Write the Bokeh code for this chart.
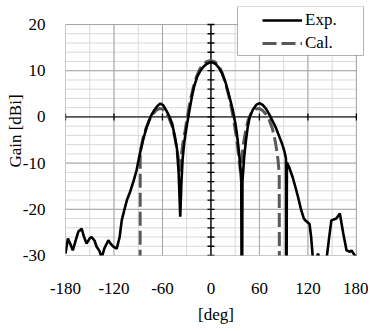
from bokeh.plotting import figure
from bokeh.models import (Legend, LegendItem, FixedTicker, BoxAnnotation, Range1d)
from bokeh.embed import file_html
from bokeh.resources import INLINE

# ---- data ----
exp_deg = [-180, -177, -174, -171, -167, -164, -160, -157, -154, -150, -147.7, -144, -141.5, -138,
           -135.3, -132, -127, -124, -120.8, -116.6, -113, -110.4, -107, -104, -100, -96, -92,
           -88, -84, -80, -77, -74, -70, -66, -62.5, -59, -55, -52, -48, -45, -42, -40, -38,
           -36.5, -35, -33, -30, -27, -24, -21, -17, -13, -9, -5, -1, 2, 6, 10, 14, 18, 21,
           24, 27, 30, 32, 34, 36, 37.5, 38, 38.5, 39, 41, 43, 45.5, 48, 52, 56, 60, 64, 68,
           72, 76, 80, 84, 88, 91, 92.8, 93, 93.5, 94, 97, 101, 105, 108, 111.7, 115, 118,
           122, 124, 126.3, 130, 132.5, 135, 142.9, 146, 149, 155.2, 159.5, 163.7, 167.8,
           171.9, 174, 178, 180]
exp_gain = [-29.6, -26.3, -27.5, -28.9, -26.5, -24.8, -24.2, -26.0, -27.4, -26.3, -26.0, -26.8, -28.1,
            -29.0, -30.5, -28.5, -26.7, -27.5, -28.1, -28.5, -26.0, -22.4, -20.0, -18.0, -16.2,
            -14.0, -11.5, -8.0, -5.0, -2.5, -1.0, 0.3, 1.5, 2.4, 2.9, 2.5, 1.3, 0.3, -1.5, -4.0,
            -7.0, -12.0, -21.6, -14.0, -9.0, -5.5, -2.0, 1.0, 4.0, 6.5, 8.7, 10.0, 10.9, 11.5,
            11.8, 11.8, 11.4, 10.6, 9.3, 7.5, 5.6, 3.6, 1.5, -1.2, -3.5, -6.5, -10.0, -14.0,
            -40.0, -40.0, -14.0, -9.0, -5.5, -2.2, 0.0, 1.6, 2.6, 3.0, 2.6, 1.8, 0.6, -0.8,
            -2.2, -4.0, -5.8, -7.5, -9.0, -40.0, -40.0, -9.8, -11.0, -13.0, -15.5, -17.5,
            -20.2, -22.0, -22.6, -23.2, -26.0, -31.0, -31.0, -29.6, -31.0, -31.0, -26.5,
            -22.4, -22.0, -20.9, -25.2, -28.9, -29.2, -28.9, -30.0, -30.2]

cal_deg = [-87.7, -87.5, -84, -80, -76, -72, -68, -64, -60, -56, -52, -48, -45, -42, -40,
           -38.5, -37, -35, -32, -29, -26, -22, -18, -14, -10, -5, 0, 5, 10, 14, 18, 22,
           25, 28, 31, 33, 35, 36.5, 38, 40, 43, 46, 50, 55, 60, 64, 68, 72, 76, 79, 81,
           83, 84.5, 84.7]
cal_gain = [-40.0, -7.5, -4.5, -2.3, -0.6, 0.6, 1.4, 1.8, 1.7, 1.0, -0.2, -2.0, -4.2, -7.0,
            -9.5, -11.8, -9.0, -6.0, -3.0, 0.2, 3.2, 6.3, 8.6, 10.3, 11.4, 12.0, 12.2, 11.9,
            11.0, 9.5, 7.3, 4.6, 2.2, -0.6, -3.8, -6.5, -9.5, -11.8, -9.0, -6.0, -3.0, -0.7,
            0.9, 1.7, 1.8, 1.4, 0.6, -0.6, -2.5, -4.8, -6.8, -9.3, -12.3, -40.0]

x_ticks = [-180, -120, -60, 0, 60, 120, 180]
x_tick_labels = ["-180", "-120", "-60", "0", "60", "120", "180"]
x_minor = [-180, -150, -120, -90, -60, -30, 0, 30, 60, 90, 120, 150, 180]
y_ticks = [-30, -20, -10, 0, 10, 20]
y_tick_labels = ["-30", "-20", "-10", "0", "10", "20"]
y_minor = [-30, -28, -26, -24, -22, -20, -18, -16, -14, -12, -10, -8, -6, -4, -2, 0,
           2, 4, 6, 8, 10, 12, 14, 16, 18, 20]
x_axis_marks = [-180, -120, -60, 60, 120, 180]
series_names = ["Exp.", "Cal."]

FONT = "Liberation Serif"
X0, X1 = x_ticks[0], x_ticks[-1]
Y0, Y1 = y_ticks[0], y_ticks[-1]

p = figure(width=368, height=330, output_backend="svg", toolbar_location=None,
           x_range=Range1d(X0, X1 + 12.5), y_range=Range1d(Y0, Y1 + 3.9),
           min_border_left=65, min_border_right=2, min_border_top=6, min_border_bottom=75)
p.background_fill_color = "white"
p.border_fill_color = "white"
p.outline_line_color = None
p.xgrid.visible = False
p.ygrid.visible = False

p.xaxis.ticker = FixedTicker(ticks=x_ticks)
p.yaxis.ticker = FixedTicker(ticks=y_ticks)
p.xaxis.major_label_overrides = dict(zip(x_ticks, x_tick_labels))
p.yaxis.major_label_overrides = dict(zip(y_ticks, y_tick_labels))

for ax in (p.xaxis, p.yaxis):
    ax.axis_line_color = None
    ax.major_tick_line_color = None
    ax.minor_tick_line_color = None
    ax.major_label_text_font = FONT
    ax.major_label_text_font_size = "17px"
    ax.major_label_text_color = "black"
    ax.axis_label_text_font = FONT
    ax.axis_label_text_font_size = "17px"
    ax.axis_label_text_font_style = "normal"
    ax.axis_label_text_color = "black"

p.xaxis.axis_label = "[deg]"
p.yaxis.axis_label = "Gain [dBi]"
p.xaxis.major_label_standoff = 21
p.xaxis.axis_label_standoff = 8
p.yaxis.major_label_standoff = 14
p.yaxis.axis_label_standoff = -5

# grid lines (minor then major)
GMIN, GMAJ = "#d9d9d9", "#a6a6a6"
p.segment(x0=x_minor, x1=x_minor, y0=[Y0] * len(x_minor), y1=[Y1] * len(x_minor),
          line_color=GMIN, line_width=1)
p.segment(x0=[X0] * len(y_minor), x1=[X1] * len(y_minor), y0=y_minor, y1=y_minor,
          line_color=GMIN, line_width=1)
p.segment(x0=x_ticks, x1=x_ticks, y0=[Y0] * len(x_ticks), y1=[Y1] * len(x_ticks),
          line_color=GMAJ, line_width=1)
p.segment(x0=[X0] * len(y_ticks), x1=[X1] * len(y_ticks), y0=y_ticks, y1=y_ticks,
          line_color=GMAJ, line_width=1)

# axis lines crossing at 0
p.segment(x0=[X0], x1=[X1], y0=[0], y1=[0], line_color="black", line_width=1)
p.segment(x0=[0], x1=[0], y0=[Y0], y1=[Y1], line_color="black", line_width=1.3)
p.rect(x=[0] * len(y_minor), y=y_minor, width=7, height=1.3, width_units="screen",
       height_units="screen", fill_color="black", line_color=None)
p.rect(x=x_axis_marks, y=[0] * len(x_axis_marks), width=1.3, height=7, width_units="screen",
       height_units="screen", fill_color="black", line_color=None)

r_cal = p.line(cal_deg, cal_gain, line_color="#595959", line_width=3, line_dash="14 5")
r_exp = p.line(exp_deg, exp_gain, line_color="black", line_width=2.6)

# legend box
box = BoxAnnotation(left=237, right=363, top=6, bottom=55,
                    left_units="canvas", right_units="canvas",
                    top_units="canvas", bottom_units="canvas",
                    fill_color="white", fill_alpha=1, line_color="black", line_width=1)
p.add_layout(box)

legend = Legend(items=[LegendItem(label=series_names[0], renderers=[r_exp]),
                       LegendItem(label=series_names[1], renderers=[r_cal])],
                location=(197, 202), padding=0, spacing=3, glyph_width=40, glyph_height=20,
                label_height=20, label_standoff=3, border_line_color=None,
                background_fill_alpha=0, label_text_font=FONT, label_text_font_size="17px",
                label_text_color="black")
p.add_layout(legend)

open("out.html", "w").write(file_html(p, INLINE))
